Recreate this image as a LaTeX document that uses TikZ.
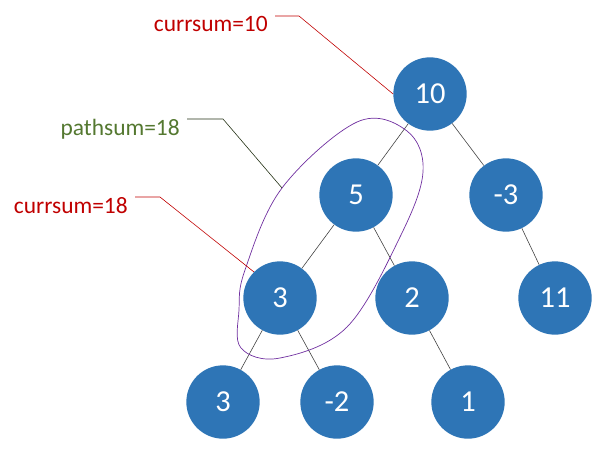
\documentclass[tikz,border=0pt]{standalone}
\usepackage{fontspec}
\setmainfont{Carlito}
\definecolor{azul}{RGB}{46,117,182}
\definecolor{vermelho}{RGB}{192,0,0}
\definecolor{verde}{RGB}{84,120,48}
\definecolor{roxo}{RGB}{112,48,160}
\tikzset{
    vertice/.style={circle, fill=azul, text=white, minimum size=2.2cm, inner sep=0pt, font=\fontsize{26}{28}\selectfont},
    aresta/.style={draw=black!75, line width=0.5pt},
    rotulo/.style={anchor=north east, inner xsep=6pt, inner ysep=0pt, font=\fontsize{20}{22}\selectfont},
}
\begin{document}
\begin{tikzpicture}[x=0.03cm, y=-0.03cm]
    \useasboundingbox (0,0) rectangle (599,448);

    % Vértices da árvore
    \foreach \nome/\x/\y/\valor in {n10/430/94/10, n5/356/195/5, nm3/506/195/-3, n3/280/298/3, n2/412/298/2, n11/555/298/11, n3b/223/402/3, nm2/337/402/-2, n1/468/402/1} {
        \node[vertice] (\nome) at (\x,\y) {\valor};
    }

    % Arestas
    \foreach \a/\b in {n10/n5, n10/nm3, n5/n3, n5/n2, nm3/n11, n3/n3b, n3/nm2, n2/n1} {
        \draw[aresta] (\a) -- (\b);
    }

    % Contorno do caminho
    \draw[roxo, line width=0.6pt] plot[smooth cycle, tension=0.6] coordinates {(357,122) (407,131) (423,172) (400,237) (347,327) (280,358) (241,348) (239,310) (245,270) (282,188)};
    \coordinate (borda) at (282,188);

    % Rótulos
    \node[rotulo, vermelho] (l10) at (275,16) {currsum=10};
    \coordinate (q10) at (299,16);
    \draw[vermelho, line width=0.5pt] (l10.north east) -- (q10) -- (n10.west);

    \node[rotulo, verde] (lp) at (187,119) {pathsum=18};
    \coordinate (qp) at (223,119);
    \draw[black!60!verde, line width=0.5pt] (lp.north east) -- (qp) -- (borda);

    \node[rotulo, vermelho] (l18) at (135,197) {currsum=18};
    \coordinate (q18) at (160,197);
    \draw[vermelho, line width=0.5pt] (l18.north east) -- (q18) -- (n3.135);
\end{tikzpicture}
\end{document}
